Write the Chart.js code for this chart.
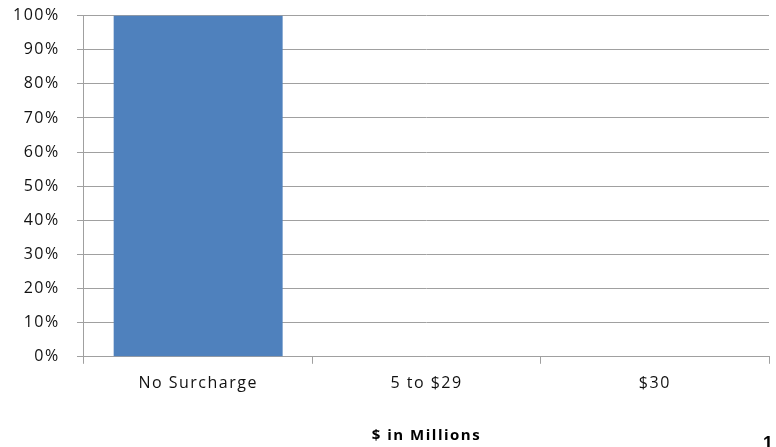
<!DOCTYPE html>
<html>
<head>
<meta charset="utf-8">
<script src="https://cdn.jsdelivr.net/npm/chart.js@4"></script>
<style>
  body { margin: 0; background: #fff; }
  #wrap { position: relative; width: 776px; height: 447px; overflow: hidden; }
  #pageNum { position: absolute; left: 763px; top: 433px; font: bold 18px "Liberation Sans", Arial, sans-serif; color: #000; }
</style>
</head>
<body>
<div id="wrap">
  <canvas id="chartSurcharge" width="776" height="447"></canvas>
  <div id="pageNum">1</div>
</div>
<script>
var categories = ['No Surcharge', '5 to $29', '$30'];
var shares = [100, 0, 0];
var yTicks = [0, 10, 20, 30, 40, 50, 60, 70, 80, 90, 100];

var gris = '#a0a0a0';
var police = '"Open Sans", "Noto Sans", sans-serif';

// texte un peu espacé comme dans l'original (le canvas est remis à zéro par Chart.js, donc via un plugin)
var espacement = {
    id: 'espacement',
    beforeUpdate: function (chart) { chart.ctx.letterSpacing = '1.5px'; },
    beforeLayout: function (chart) { chart.ctx.letterSpacing = '1.5px'; },
    beforeDraw: function (chart) { chart.ctx.letterSpacing = '1.5px'; }
};

var ctx = document.getElementById('chartSurcharge').getContext('2d');
var chart = new Chart(ctx, {
    type: 'bar',
    data: {
        labels: categories,
        datasets: [{
            data: shares,
            backgroundColor: '#4f81bd',
            borderWidth: 0,
            categoryPercentage: 1,
            barPercentage: 0.74
        }]
    },
    plugins: [espacement],
    options: {
        responsive: false,
        animation: false,
        layout: { padding: { top: 0, right: 7, left: 7, bottom: 1 } },
        plugins: {
            legend: { display: false },
            tooltip: { enabled: false }
        },
        scales: {
            x: {
                offset: true,
                grid: {
                    offset: true,
                    drawOnChartArea: false,
                    color: gris,
                    tickLength: 7,
                    tickColor: gris
                },
                border: { color: gris, width: 1 },
                ticks: { color: '#111', font: { family: police, size: 16 }, padding: 10 },
                title: {
                    display: true,
                    text: '$ in Millions',
                    color: '#000',
                    font: { family: police, size: 15, weight: 'bold' },
                    padding: { top: 24, bottom: 1 }
                }
            },
            y: {
                min: 0,
                max: 100,
                afterBuildTicks: function (axis) {
                    axis.ticks = yTicks.map(function (v) { return { value: v }; });
                },
                grid: { color: gris, tickLength: 7, tickColor: gris },
                border: { color: gris, width: 1 },
                ticks: {
                    color: '#111',
                    font: { family: police, size: 16 },
                    padding: 6,
                    // espaces en fin pour garder l'écart avec les graduations
                    callback: function (v) { return v + '%  '; }
                }
            }
        }
    }
});
</script>
</body>
</html>
